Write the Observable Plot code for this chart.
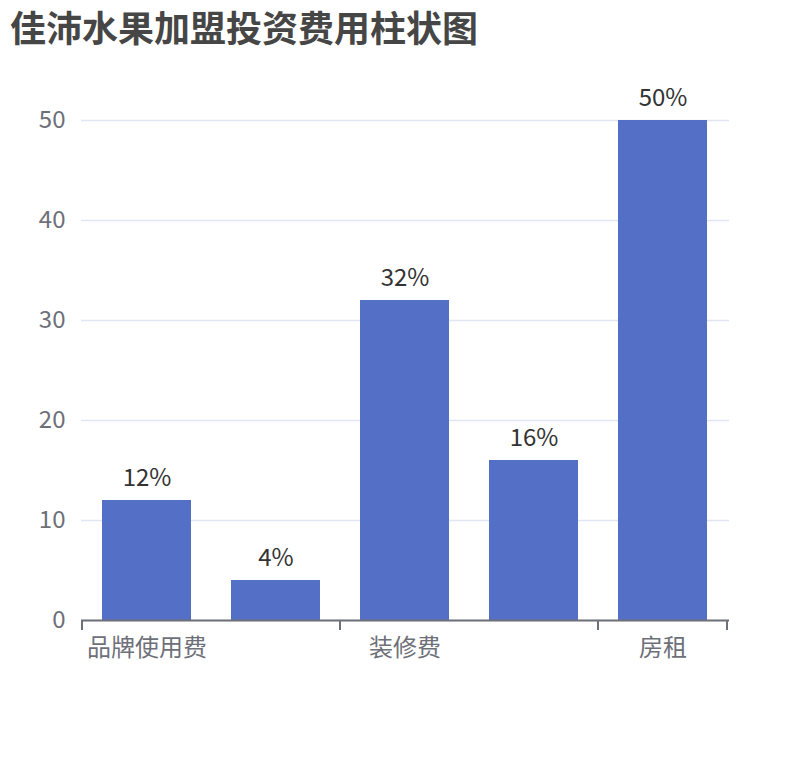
<!DOCTYPE html>
<html><head><meta charset="utf-8">
<script src="https://cdn.jsdelivr.net/npm/d3@7"></script>
<script src="https://cdn.jsdelivr.net/npm/@observablehq/plot@0.6"></script>
<style>
body{margin:0;background:#fff;font-family:"Noto Sans CJK SC",sans-serif;}
#title{height:60px;box-sizing:border-box;padding:2px 0 0 10px;font-size:36px;font-weight:bold;color:#464646;line-height:48px;}
</style></head><body>
<div id="title">佳沛水果加盟投资费用柱状图</div>
<div id="chart"></div>
<script>
const categories = ["品牌使用费", "保证金", "装修费", "设备费", "房租"];
const values = [12, 4, 32, 16, 50];
const barLabels = ["12%", "4%", "32%", "16%", "50%"];
const yTicks = [0, 10, 20, 30, 40, 50];
const shownLabels = ["品牌使用费", "装修费", "房租"];
const data = categories.map((c, i) => ({category: c, value: values[i], label: barLabels[i]}));

const padInner = 0.31, padOuter = 0.155;

function boundaryTicks(index, scales, channels, dims) {
  const g = d3.create("svg:g");
  const x = scales.x, y = scales.y;
  const step = x(categories[1]) - x(categories[0]);
  const y0 = y(0);
  const xs = [0, 2, 4].map(i => x(categories[i]) - padOuter * step);
  xs.push(x(categories[categories.length - 1]) + x.bandwidth() + padOuter * step);
  for (const xv of xs) {
    g.append("line").attr("x1", xv).attr("x2", xv).attr("y1", y0).attr("y2", y0 + 10)
      .attr("stroke", "#6E7079").attr("stroke-width", 2);
  }
  return g.node();
}

const chart = Plot.plot({
  width: 810,
  height: 700,
  marginTop: 60,
  marginBottom: 140,
  marginLeft: 81,
  marginRight: 81,
  style: {fontFamily: "'Noto Sans CJK SC', sans-serif", fontSize: "24px", color: "#6E7079", background: "#fff"},
  x: {domain: categories, paddingInner: padInner, paddingOuter: padOuter, label: null},
  y: {domain: [0, 50], label: null},
  marks: [
    Plot.gridY(yTicks, {stroke: "#E0E6F1", strokeOpacity: 1, strokeWidth: 1.5}),
    Plot.barY(data, {x: "category", y: "value", fill: "#5470C6"}),
    Plot.ruleY([0], {stroke: "#6E7079", strokeWidth: 2}),
    boundaryTicks,
    Plot.axisY(yTicks, {tickSize: 0, tickPadding: 16, fontSize: 24, fill: "#6E7079", label: null}),
    Plot.axisX({tickSize: 0, tickPadding: 18, fontSize: 24, fill: "#6E7079", label: null,
      tickFormat: d => shownLabels.includes(d) ? d : ""}),
    Plot.text(data, {x: "category", y: "value", text: "label", dy: -15, lineAnchor: "bottom", fontSize: 24, fill: "#333"})
  ]
});
document.getElementById("chart").appendChild(chart);
</script>
</body></html>
